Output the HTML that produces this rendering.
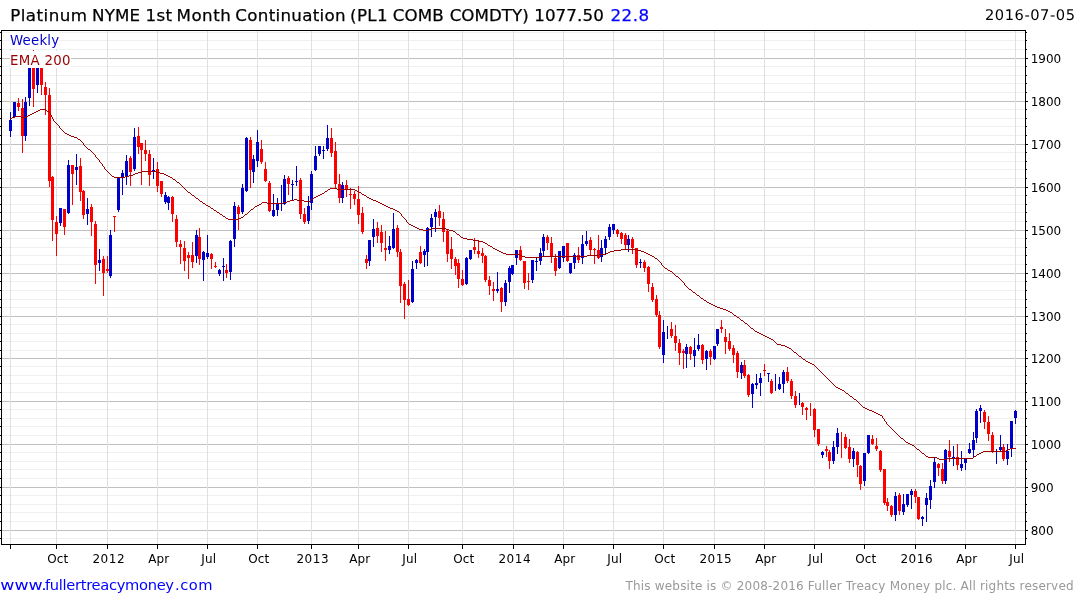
<!DOCTYPE html>
<html><head><meta charset="utf-8"><title>Platinum NYME 1st Month Continuation</title>
<style>html,body{margin:0;padding:0;background:#fff}svg{display:block;will-change:transform}text{font-family:"DejaVu Sans","Liberation Sans",sans-serif}</style></head><body>
<svg width="1075" height="600" viewBox="0 0 1075 600">
<rect width="1075" height="600" fill="#fff"/>
<g shape-rendering="crispEdges">
<rect x="2" y="538" width="1023" height="1" fill="#f0f0f0"/>
<rect x="2" y="521" width="1023" height="1" fill="#f0f0f0"/>
<rect x="2" y="512" width="1023" height="1" fill="#f0f0f0"/>
<rect x="2" y="504" width="1023" height="1" fill="#f0f0f0"/>
<rect x="2" y="495" width="1023" height="1" fill="#f0f0f0"/>
<rect x="2" y="478" width="1023" height="1" fill="#f0f0f0"/>
<rect x="2" y="469" width="1023" height="1" fill="#f0f0f0"/>
<rect x="2" y="461" width="1023" height="1" fill="#f0f0f0"/>
<rect x="2" y="452" width="1023" height="1" fill="#f0f0f0"/>
<rect x="2" y="435" width="1023" height="1" fill="#f0f0f0"/>
<rect x="2" y="426" width="1023" height="1" fill="#f0f0f0"/>
<rect x="2" y="418" width="1023" height="1" fill="#f0f0f0"/>
<rect x="2" y="409" width="1023" height="1" fill="#f0f0f0"/>
<rect x="2" y="392" width="1023" height="1" fill="#f0f0f0"/>
<rect x="2" y="383" width="1023" height="1" fill="#f0f0f0"/>
<rect x="2" y="375" width="1023" height="1" fill="#f0f0f0"/>
<rect x="2" y="366" width="1023" height="1" fill="#f0f0f0"/>
<rect x="2" y="350" width="1023" height="1" fill="#f0f0f0"/>
<rect x="2" y="341" width="1023" height="1" fill="#f0f0f0"/>
<rect x="2" y="333" width="1023" height="1" fill="#f0f0f0"/>
<rect x="2" y="324" width="1023" height="1" fill="#f0f0f0"/>
<rect x="2" y="307" width="1023" height="1" fill="#f0f0f0"/>
<rect x="2" y="299" width="1023" height="1" fill="#f0f0f0"/>
<rect x="2" y="290" width="1023" height="1" fill="#f0f0f0"/>
<rect x="2" y="281" width="1023" height="1" fill="#f0f0f0"/>
<rect x="2" y="264" width="1023" height="1" fill="#f0f0f0"/>
<rect x="2" y="255" width="1023" height="1" fill="#f0f0f0"/>
<rect x="2" y="247" width="1023" height="1" fill="#f0f0f0"/>
<rect x="2" y="238" width="1023" height="1" fill="#f0f0f0"/>
<rect x="2" y="221" width="1023" height="1" fill="#f0f0f0"/>
<rect x="2" y="212" width="1023" height="1" fill="#f0f0f0"/>
<rect x="2" y="204" width="1023" height="1" fill="#f0f0f0"/>
<rect x="2" y="195" width="1023" height="1" fill="#f0f0f0"/>
<rect x="2" y="178" width="1023" height="1" fill="#f0f0f0"/>
<rect x="2" y="169" width="1023" height="1" fill="#f0f0f0"/>
<rect x="2" y="161" width="1023" height="1" fill="#f0f0f0"/>
<rect x="2" y="152" width="1023" height="1" fill="#f0f0f0"/>
<rect x="2" y="135" width="1023" height="1" fill="#f0f0f0"/>
<rect x="2" y="126" width="1023" height="1" fill="#f0f0f0"/>
<rect x="2" y="118" width="1023" height="1" fill="#f0f0f0"/>
<rect x="2" y="109" width="1023" height="1" fill="#f0f0f0"/>
<rect x="2" y="92" width="1023" height="1" fill="#f0f0f0"/>
<rect x="2" y="83" width="1023" height="1" fill="#f0f0f0"/>
<rect x="2" y="75" width="1023" height="1" fill="#f0f0f0"/>
<rect x="2" y="66" width="1023" height="1" fill="#f0f0f0"/>
<rect x="2" y="49" width="1023" height="1" fill="#f0f0f0"/>
<rect x="2" y="40" width="1023" height="1" fill="#f0f0f0"/>
<rect x="2" y="32" width="1023" height="1" fill="#f0f0f0"/>
<rect x="2" y="530" width="1023" height="1" fill="#c0c0c0"/>
<rect x="2" y="487" width="1023" height="1" fill="#c0c0c0"/>
<rect x="2" y="444" width="1023" height="1" fill="#c0c0c0"/>
<rect x="2" y="401" width="1023" height="1" fill="#c0c0c0"/>
<rect x="2" y="358" width="1023" height="1" fill="#c0c0c0"/>
<rect x="2" y="316" width="1023" height="1" fill="#c0c0c0"/>
<rect x="2" y="273" width="1023" height="1" fill="#c0c0c0"/>
<rect x="2" y="230" width="1023" height="1" fill="#c0c0c0"/>
<rect x="2" y="187" width="1023" height="1" fill="#c0c0c0"/>
<rect x="2" y="144" width="1023" height="1" fill="#c0c0c0"/>
<rect x="2" y="101" width="1023" height="1" fill="#c0c0c0"/>
<rect x="2" y="58" width="1023" height="1" fill="#c0c0c0"/>
<rect x="10" y="31" width="1" height="513" fill="#e0e0e0"/>
<rect x="56" y="31" width="1" height="513" fill="#e0e0e0"/>
<rect x="107" y="31" width="1" height="513" fill="#e0e0e0"/>
<rect x="157" y="31" width="1" height="513" fill="#e0e0e0"/>
<rect x="207" y="31" width="1" height="513" fill="#e0e0e0"/>
<rect x="257" y="31" width="1" height="513" fill="#e0e0e0"/>
<rect x="311" y="31" width="1" height="513" fill="#e0e0e0"/>
<rect x="358" y="31" width="1" height="513" fill="#e0e0e0"/>
<rect x="408" y="31" width="1" height="513" fill="#e0e0e0"/>
<rect x="462" y="31" width="1" height="513" fill="#e0e0e0"/>
<rect x="513" y="31" width="1" height="513" fill="#e0e0e0"/>
<rect x="563" y="31" width="1" height="513" fill="#e0e0e0"/>
<rect x="613" y="31" width="1" height="513" fill="#e0e0e0"/>
<rect x="663" y="31" width="1" height="513" fill="#e0e0e0"/>
<rect x="714" y="31" width="1" height="513" fill="#e0e0e0"/>
<rect x="764" y="31" width="1" height="513" fill="#e0e0e0"/>
<rect x="814" y="31" width="1" height="513" fill="#e0e0e0"/>
<rect x="864" y="31" width="1" height="513" fill="#e0e0e0"/>
<rect x="915" y="31" width="1" height="513" fill="#e0e0e0"/>
<rect x="965" y="31" width="1" height="513" fill="#e0e0e0"/>
<rect x="1015" y="31" width="1" height="513" fill="#e0e0e0"/>
</g>
<g shape-rendering="crispEdges">
<rect x="10" y="112" width="1" height="25" fill="#0000cc"/>
<rect x="9" y="120" width="3" height="11" fill="#0000cc"/>
<rect x="14" y="102" width="1" height="16" fill="#0000cc"/>
<rect x="13" y="102" width="3" height="15" fill="#0000cc"/>
<rect x="18" y="98" width="1" height="13" fill="#ff0000"/>
<rect x="17" y="103" width="3" height="4" fill="#ff0000"/>
<rect x="22" y="99" width="1" height="54" fill="#ff0000"/>
<rect x="21" y="108" width="3" height="28" fill="#ff0000"/>
<rect x="25" y="97" width="1" height="44" fill="#0000cc"/>
<rect x="24" y="102" width="3" height="34" fill="#0000cc"/>
<rect x="29" y="52" width="1" height="54" fill="#0000cc"/>
<rect x="28" y="58" width="3" height="40" fill="#0000cc"/>
<rect x="33" y="50" width="1" height="57" fill="#ff0000"/>
<rect x="32" y="55" width="3" height="34" fill="#ff0000"/>
<rect x="37" y="52" width="1" height="41" fill="#0000cc"/>
<rect x="36" y="56" width="3" height="29" fill="#0000cc"/>
<rect x="41" y="52" width="1" height="43" fill="#ff0000"/>
<rect x="40" y="54" width="3" height="31" fill="#ff0000"/>
<rect x="45" y="82" width="1" height="33" fill="#ff0000"/>
<rect x="44" y="87" width="3" height="8" fill="#ff0000"/>
<rect x="49" y="88" width="1" height="99" fill="#ff0000"/>
<rect x="48" y="95" width="3" height="86" fill="#ff0000"/>
<rect x="52" y="176" width="1" height="65" fill="#ff0000"/>
<rect x="51" y="177" width="3" height="43" fill="#ff0000"/>
<rect x="56" y="216" width="1" height="40" fill="#ff0000"/>
<rect x="55" y="222" width="3" height="12" fill="#ff0000"/>
<rect x="60" y="208" width="1" height="18" fill="#0000cc"/>
<rect x="59" y="208" width="3" height="15" fill="#0000cc"/>
<rect x="64" y="209" width="1" height="26" fill="#ff0000"/>
<rect x="63" y="209" width="3" height="18" fill="#ff0000"/>
<rect x="68" y="160" width="1" height="54" fill="#0000cc"/>
<rect x="67" y="165" width="3" height="48" fill="#0000cc"/>
<rect x="72" y="165" width="1" height="40" fill="#ff0000"/>
<rect x="71" y="165" width="3" height="9" fill="#ff0000"/>
<rect x="76" y="154" width="1" height="31" fill="#0000cc"/>
<rect x="75" y="167" width="3" height="3" fill="#0000cc"/>
<rect x="80" y="158" width="1" height="43" fill="#ff0000"/>
<rect x="79" y="166" width="3" height="26" fill="#ff0000"/>
<rect x="83" y="190" width="1" height="29" fill="#ff0000"/>
<rect x="82" y="191" width="3" height="24" fill="#ff0000"/>
<rect x="87" y="198" width="1" height="27" fill="#0000cc"/>
<rect x="86" y="209" width="3" height="5" fill="#0000cc"/>
<rect x="91" y="204" width="1" height="32" fill="#ff0000"/>
<rect x="90" y="207" width="3" height="15" fill="#ff0000"/>
<rect x="95" y="221" width="1" height="63" fill="#ff0000"/>
<rect x="94" y="224" width="3" height="41" fill="#ff0000"/>
<rect x="99" y="249" width="1" height="22" fill="#0000cc"/>
<rect x="98" y="260" width="3" height="3" fill="#0000cc"/>
<rect x="103" y="256" width="1" height="40" fill="#ff0000"/>
<rect x="102" y="259" width="3" height="14" fill="#ff0000"/>
<rect x="107" y="256" width="1" height="17" fill="#ff0000"/>
<rect x="106" y="269" width="3" height="2" fill="#ff0000"/>
<rect x="110" y="230" width="1" height="48" fill="#0000cc"/>
<rect x="109" y="235" width="3" height="41" fill="#0000cc"/>
<rect x="114" y="216" width="1" height="16" fill="#ff0000"/>
<rect x="113" y="216" width="3" height="1" fill="#ff0000"/>
<rect x="118" y="178" width="1" height="34" fill="#0000cc"/>
<rect x="117" y="178" width="3" height="32" fill="#0000cc"/>
<rect x="122" y="170" width="1" height="25" fill="#0000cc"/>
<rect x="121" y="173" width="3" height="5" fill="#0000cc"/>
<rect x="126" y="155" width="1" height="30" fill="#0000cc"/>
<rect x="125" y="161" width="3" height="15" fill="#0000cc"/>
<rect x="130" y="156" width="1" height="30" fill="#ff0000"/>
<rect x="129" y="158" width="3" height="14" fill="#ff0000"/>
<rect x="134" y="128" width="1" height="43" fill="#0000cc"/>
<rect x="133" y="137" width="3" height="32" fill="#0000cc"/>
<rect x="138" y="127" width="1" height="27" fill="#ff0000"/>
<rect x="137" y="136" width="3" height="11" fill="#ff0000"/>
<rect x="141" y="143" width="1" height="42" fill="#ff0000"/>
<rect x="140" y="143" width="3" height="7" fill="#ff0000"/>
<rect x="145" y="140" width="1" height="21" fill="#ff0000"/>
<rect x="144" y="150" width="3" height="4" fill="#ff0000"/>
<rect x="149" y="150" width="1" height="36" fill="#ff0000"/>
<rect x="148" y="154" width="3" height="21" fill="#ff0000"/>
<rect x="153" y="158" width="1" height="21" fill="#0000cc"/>
<rect x="152" y="170" width="3" height="2" fill="#0000cc"/>
<rect x="157" y="162" width="1" height="30" fill="#ff0000"/>
<rect x="156" y="169" width="3" height="17" fill="#ff0000"/>
<rect x="161" y="181" width="1" height="16" fill="#ff0000"/>
<rect x="160" y="181" width="3" height="13" fill="#ff0000"/>
<rect x="165" y="192" width="1" height="12" fill="#0000cc"/>
<rect x="164" y="195" width="3" height="7" fill="#0000cc"/>
<rect x="168" y="196" width="1" height="14" fill="#0000cc"/>
<rect x="167" y="197" width="3" height="6" fill="#0000cc"/>
<rect x="172" y="196" width="1" height="26" fill="#ff0000"/>
<rect x="171" y="197" width="3" height="17" fill="#ff0000"/>
<rect x="176" y="215" width="1" height="32" fill="#ff0000"/>
<rect x="175" y="219" width="3" height="23" fill="#ff0000"/>
<rect x="180" y="240" width="1" height="24" fill="#ff0000"/>
<rect x="179" y="244" width="3" height="3" fill="#ff0000"/>
<rect x="184" y="241" width="1" height="30" fill="#ff0000"/>
<rect x="183" y="248" width="3" height="13" fill="#ff0000"/>
<rect x="188" y="252" width="1" height="27" fill="#ff0000"/>
<rect x="187" y="255" width="3" height="3" fill="#ff0000"/>
<rect x="192" y="242" width="1" height="26" fill="#ff0000"/>
<rect x="191" y="255" width="3" height="7" fill="#ff0000"/>
<rect x="196" y="230" width="1" height="33" fill="#0000cc"/>
<rect x="195" y="235" width="3" height="21" fill="#0000cc"/>
<rect x="199" y="228" width="1" height="37" fill="#ff0000"/>
<rect x="198" y="237" width="3" height="22" fill="#ff0000"/>
<rect x="203" y="251" width="1" height="30" fill="#0000cc"/>
<rect x="202" y="252" width="3" height="8" fill="#0000cc"/>
<rect x="207" y="235" width="1" height="24" fill="#0000cc"/>
<rect x="206" y="253" width="3" height="4" fill="#0000cc"/>
<rect x="211" y="253" width="1" height="16" fill="#ff0000"/>
<rect x="210" y="254" width="3" height="5" fill="#ff0000"/>
<rect x="215" y="262" width="1" height="6" fill="#ff0000"/>
<rect x="214" y="266" width="3" height="1" fill="#ff0000"/>
<rect x="219" y="269" width="1" height="7" fill="#0000cc"/>
<rect x="218" y="270" width="3" height="4" fill="#0000cc"/>
<rect x="223" y="258" width="1" height="23" fill="#0000cc"/>
<rect x="222" y="266" width="3" height="1" fill="#0000cc"/>
<rect x="226" y="264" width="1" height="14" fill="#ff0000"/>
<rect x="225" y="270" width="3" height="3" fill="#ff0000"/>
<rect x="230" y="240" width="1" height="40" fill="#0000cc"/>
<rect x="229" y="241" width="3" height="31" fill="#0000cc"/>
<rect x="234" y="202" width="1" height="45" fill="#0000cc"/>
<rect x="233" y="206" width="3" height="33" fill="#0000cc"/>
<rect x="238" y="205" width="1" height="25" fill="#ff0000"/>
<rect x="237" y="207" width="3" height="7" fill="#ff0000"/>
<rect x="242" y="184" width="1" height="30" fill="#0000cc"/>
<rect x="241" y="188" width="3" height="24" fill="#0000cc"/>
<rect x="246" y="137" width="1" height="55" fill="#0000cc"/>
<rect x="245" y="138" width="3" height="53" fill="#0000cc"/>
<rect x="250" y="137" width="1" height="51" fill="#ff0000"/>
<rect x="249" y="140" width="3" height="30" fill="#ff0000"/>
<rect x="253" y="155" width="1" height="28" fill="#0000cc"/>
<rect x="252" y="159" width="3" height="13" fill="#0000cc"/>
<rect x="257" y="130" width="1" height="37" fill="#0000cc"/>
<rect x="256" y="142" width="3" height="19" fill="#0000cc"/>
<rect x="261" y="140" width="1" height="24" fill="#ff0000"/>
<rect x="260" y="149" width="3" height="13" fill="#ff0000"/>
<rect x="265" y="162" width="1" height="20" fill="#ff0000"/>
<rect x="264" y="169" width="3" height="12" fill="#ff0000"/>
<rect x="269" y="181" width="1" height="31" fill="#ff0000"/>
<rect x="268" y="183" width="3" height="28" fill="#ff0000"/>
<rect x="273" y="194" width="1" height="23" fill="#0000cc"/>
<rect x="272" y="210" width="3" height="6" fill="#0000cc"/>
<rect x="277" y="198" width="1" height="18" fill="#0000cc"/>
<rect x="276" y="204" width="3" height="6" fill="#0000cc"/>
<rect x="281" y="185" width="1" height="26" fill="#0000cc"/>
<rect x="284" y="175" width="1" height="30" fill="#0000cc"/>
<rect x="283" y="179" width="3" height="25" fill="#0000cc"/>
<rect x="288" y="176" width="1" height="19" fill="#ff0000"/>
<rect x="287" y="178" width="3" height="6" fill="#ff0000"/>
<rect x="292" y="180" width="1" height="20" fill="#0000cc"/>
<rect x="291" y="184" width="3" height="1" fill="#0000cc"/>
<rect x="296" y="166" width="1" height="20" fill="#0000cc"/>
<rect x="295" y="181" width="3" height="1" fill="#0000cc"/>
<rect x="300" y="178" width="1" height="41" fill="#ff0000"/>
<rect x="299" y="180" width="3" height="34" fill="#ff0000"/>
<rect x="304" y="208" width="1" height="16" fill="#ff0000"/>
<rect x="303" y="214" width="3" height="8" fill="#ff0000"/>
<rect x="308" y="196" width="1" height="28" fill="#0000cc"/>
<rect x="307" y="206" width="3" height="15" fill="#0000cc"/>
<rect x="311" y="171" width="1" height="39" fill="#0000cc"/>
<rect x="310" y="174" width="3" height="29" fill="#0000cc"/>
<rect x="315" y="146" width="1" height="25" fill="#0000cc"/>
<rect x="314" y="156" width="3" height="14" fill="#0000cc"/>
<rect x="319" y="146" width="1" height="10" fill="#0000cc"/>
<rect x="318" y="146" width="3" height="8" fill="#0000cc"/>
<rect x="323" y="146" width="1" height="13" fill="#0000cc"/>
<rect x="322" y="150" width="3" height="1" fill="#0000cc"/>
<rect x="327" y="125" width="1" height="26" fill="#0000cc"/>
<rect x="326" y="138" width="3" height="11" fill="#0000cc"/>
<rect x="331" y="128" width="1" height="29" fill="#ff0000"/>
<rect x="330" y="138" width="3" height="15" fill="#ff0000"/>
<rect x="335" y="142" width="1" height="46" fill="#ff0000"/>
<rect x="334" y="151" width="3" height="33" fill="#ff0000"/>
<rect x="339" y="174" width="1" height="29" fill="#ff0000"/>
<rect x="338" y="184" width="3" height="14" fill="#ff0000"/>
<rect x="342" y="182" width="1" height="21" fill="#0000cc"/>
<rect x="341" y="185" width="3" height="13" fill="#0000cc"/>
<rect x="346" y="180" width="1" height="17" fill="#ff0000"/>
<rect x="345" y="185" width="3" height="4" fill="#ff0000"/>
<rect x="350" y="188" width="1" height="21" fill="#ff0000"/>
<rect x="349" y="194" width="3" height="1" fill="#ff0000"/>
<rect x="354" y="191" width="1" height="14" fill="#ff0000"/>
<rect x="353" y="194" width="3" height="5" fill="#ff0000"/>
<rect x="358" y="186" width="1" height="38" fill="#ff0000"/>
<rect x="357" y="199" width="3" height="16" fill="#ff0000"/>
<rect x="362" y="207" width="1" height="27" fill="#ff0000"/>
<rect x="361" y="213" width="3" height="19" fill="#ff0000"/>
<rect x="366" y="255" width="1" height="14" fill="#ff0000"/>
<rect x="365" y="259" width="3" height="4" fill="#ff0000"/>
<rect x="369" y="240" width="1" height="26" fill="#0000cc"/>
<rect x="368" y="240" width="3" height="21" fill="#0000cc"/>
<rect x="373" y="219" width="1" height="28" fill="#0000cc"/>
<rect x="372" y="229" width="3" height="8" fill="#0000cc"/>
<rect x="377" y="222" width="1" height="21" fill="#ff0000"/>
<rect x="376" y="228" width="3" height="8" fill="#ff0000"/>
<rect x="381" y="225" width="1" height="27" fill="#ff0000"/>
<rect x="380" y="232" width="3" height="11" fill="#ff0000"/>
<rect x="385" y="231" width="1" height="30" fill="#ff0000"/>
<rect x="384" y="248" width="3" height="2" fill="#ff0000"/>
<rect x="389" y="236" width="1" height="18" fill="#0000cc"/>
<rect x="388" y="246" width="3" height="4" fill="#0000cc"/>
<rect x="393" y="213" width="1" height="36" fill="#0000cc"/>
<rect x="392" y="229" width="3" height="19" fill="#0000cc"/>
<rect x="397" y="225" width="1" height="32" fill="#ff0000"/>
<rect x="396" y="228" width="3" height="24" fill="#ff0000"/>
<rect x="400" y="249" width="1" height="54" fill="#ff0000"/>
<rect x="399" y="252" width="3" height="34" fill="#ff0000"/>
<rect x="404" y="282" width="1" height="37" fill="#ff0000"/>
<rect x="403" y="284" width="3" height="16" fill="#ff0000"/>
<rect x="408" y="280" width="1" height="26" fill="#ff0000"/>
<rect x="407" y="299" width="3" height="6" fill="#ff0000"/>
<rect x="412" y="261" width="1" height="42" fill="#0000cc"/>
<rect x="411" y="269" width="3" height="33" fill="#0000cc"/>
<rect x="416" y="259" width="1" height="10" fill="#0000cc"/>
<rect x="415" y="260" width="3" height="3" fill="#0000cc"/>
<rect x="420" y="246" width="1" height="18" fill="#ff0000"/>
<rect x="419" y="252" width="3" height="11" fill="#ff0000"/>
<rect x="424" y="249" width="1" height="18" fill="#0000cc"/>
<rect x="423" y="251" width="3" height="4" fill="#0000cc"/>
<rect x="427" y="227" width="1" height="39" fill="#0000cc"/>
<rect x="426" y="228" width="3" height="24" fill="#0000cc"/>
<rect x="431" y="214" width="1" height="23" fill="#0000cc"/>
<rect x="430" y="218" width="3" height="9" fill="#0000cc"/>
<rect x="435" y="209" width="1" height="23" fill="#0000cc"/>
<rect x="434" y="212" width="3" height="5" fill="#0000cc"/>
<rect x="439" y="205" width="1" height="21" fill="#ff0000"/>
<rect x="438" y="211" width="3" height="7" fill="#ff0000"/>
<rect x="443" y="212" width="1" height="30" fill="#ff0000"/>
<rect x="442" y="219" width="3" height="13" fill="#ff0000"/>
<rect x="447" y="230" width="1" height="32" fill="#ff0000"/>
<rect x="446" y="231" width="3" height="23" fill="#ff0000"/>
<rect x="451" y="237" width="1" height="32" fill="#ff0000"/>
<rect x="450" y="249" width="3" height="10" fill="#ff0000"/>
<rect x="455" y="257" width="1" height="18" fill="#ff0000"/>
<rect x="454" y="259" width="3" height="7" fill="#ff0000"/>
<rect x="458" y="259" width="1" height="29" fill="#ff0000"/>
<rect x="457" y="263" width="3" height="16" fill="#ff0000"/>
<rect x="462" y="270" width="1" height="16" fill="#ff0000"/>
<rect x="461" y="279" width="3" height="6" fill="#ff0000"/>
<rect x="466" y="257" width="1" height="28" fill="#0000cc"/>
<rect x="465" y="258" width="3" height="26" fill="#0000cc"/>
<rect x="470" y="250" width="1" height="10" fill="#0000cc"/>
<rect x="469" y="250" width="3" height="9" fill="#0000cc"/>
<rect x="474" y="238" width="1" height="16" fill="#ff0000"/>
<rect x="473" y="247" width="3" height="3" fill="#ff0000"/>
<rect x="478" y="241" width="1" height="17" fill="#ff0000"/>
<rect x="477" y="251" width="3" height="3" fill="#ff0000"/>
<rect x="482" y="248" width="1" height="15" fill="#ff0000"/>
<rect x="481" y="253" width="3" height="3" fill="#ff0000"/>
<rect x="485" y="255" width="1" height="27" fill="#ff0000"/>
<rect x="484" y="256" width="3" height="24" fill="#ff0000"/>
<rect x="489" y="276" width="1" height="19" fill="#ff0000"/>
<rect x="488" y="280" width="3" height="6" fill="#ff0000"/>
<rect x="493" y="282" width="1" height="19" fill="#ff0000"/>
<rect x="492" y="289" width="3" height="2" fill="#ff0000"/>
<rect x="497" y="272" width="1" height="21" fill="#0000cc"/>
<rect x="496" y="289" width="3" height="2" fill="#0000cc"/>
<rect x="501" y="287" width="1" height="25" fill="#ff0000"/>
<rect x="500" y="288" width="3" height="14" fill="#ff0000"/>
<rect x="505" y="280" width="1" height="26" fill="#0000cc"/>
<rect x="504" y="283" width="3" height="19" fill="#0000cc"/>
<rect x="509" y="266" width="1" height="27" fill="#0000cc"/>
<rect x="508" y="268" width="3" height="14" fill="#0000cc"/>
<rect x="512" y="265" width="1" height="10" fill="#0000cc"/>
<rect x="511" y="265" width="3" height="9" fill="#0000cc"/>
<rect x="516" y="250" width="1" height="15" fill="#0000cc"/>
<rect x="515" y="250" width="3" height="8" fill="#0000cc"/>
<rect x="520" y="246" width="1" height="15" fill="#ff0000"/>
<rect x="519" y="250" width="3" height="10" fill="#ff0000"/>
<rect x="524" y="261" width="1" height="28" fill="#ff0000"/>
<rect x="523" y="261" width="3" height="22" fill="#ff0000"/>
<rect x="528" y="273" width="1" height="17" fill="#ff0000"/>
<rect x="527" y="281" width="3" height="1" fill="#ff0000"/>
<rect x="532" y="260" width="1" height="23" fill="#0000cc"/>
<rect x="531" y="260" width="3" height="20" fill="#0000cc"/>
<rect x="536" y="258" width="1" height="13" fill="#0000cc"/>
<rect x="535" y="261" width="3" height="1" fill="#0000cc"/>
<rect x="540" y="248" width="1" height="17" fill="#0000cc"/>
<rect x="539" y="253" width="3" height="8" fill="#0000cc"/>
<rect x="543" y="234" width="1" height="22" fill="#0000cc"/>
<rect x="542" y="237" width="3" height="14" fill="#0000cc"/>
<rect x="547" y="235" width="1" height="15" fill="#ff0000"/>
<rect x="546" y="237" width="3" height="6" fill="#ff0000"/>
<rect x="551" y="237" width="1" height="26" fill="#ff0000"/>
<rect x="550" y="243" width="3" height="13" fill="#ff0000"/>
<rect x="555" y="254" width="1" height="22" fill="#ff0000"/>
<rect x="554" y="258" width="3" height="13" fill="#ff0000"/>
<rect x="559" y="251" width="1" height="18" fill="#0000cc"/>
<rect x="558" y="251" width="3" height="17" fill="#0000cc"/>
<rect x="563" y="246" width="1" height="16" fill="#0000cc"/>
<rect x="562" y="246" width="3" height="12" fill="#0000cc"/>
<rect x="567" y="243" width="1" height="19" fill="#ff0000"/>
<rect x="566" y="243" width="3" height="18" fill="#ff0000"/>
<rect x="570" y="263" width="1" height="11" fill="#0000cc"/>
<rect x="569" y="263" width="3" height="10" fill="#0000cc"/>
<rect x="574" y="253" width="1" height="16" fill="#0000cc"/>
<rect x="573" y="255" width="3" height="8" fill="#0000cc"/>
<rect x="578" y="247" width="1" height="16" fill="#ff0000"/>
<rect x="577" y="255" width="3" height="5" fill="#ff0000"/>
<rect x="582" y="235" width="1" height="29" fill="#0000cc"/>
<rect x="581" y="244" width="3" height="14" fill="#0000cc"/>
<rect x="586" y="231" width="1" height="15" fill="#0000cc"/>
<rect x="585" y="241" width="3" height="3" fill="#0000cc"/>
<rect x="590" y="237" width="1" height="18" fill="#ff0000"/>
<rect x="589" y="240" width="3" height="10" fill="#ff0000"/>
<rect x="594" y="248" width="1" height="16" fill="#ff0000"/>
<rect x="593" y="249" width="3" height="1" fill="#ff0000"/>
<rect x="598" y="235" width="1" height="24" fill="#ff0000"/>
<rect x="597" y="250" width="3" height="8" fill="#ff0000"/>
<rect x="601" y="240" width="1" height="22" fill="#0000cc"/>
<rect x="600" y="248" width="3" height="9" fill="#0000cc"/>
<rect x="605" y="236" width="1" height="18" fill="#0000cc"/>
<rect x="604" y="239" width="3" height="9" fill="#0000cc"/>
<rect x="609" y="224" width="1" height="16" fill="#0000cc"/>
<rect x="608" y="227" width="3" height="10" fill="#0000cc"/>
<rect x="613" y="224" width="1" height="10" fill="#0000cc"/>
<rect x="612" y="224" width="3" height="6" fill="#0000cc"/>
<rect x="617" y="229" width="1" height="8" fill="#ff0000"/>
<rect x="616" y="230" width="3" height="4" fill="#ff0000"/>
<rect x="621" y="232" width="1" height="12" fill="#ff0000"/>
<rect x="620" y="233" width="3" height="6" fill="#ff0000"/>
<rect x="625" y="233" width="1" height="16" fill="#ff0000"/>
<rect x="624" y="235" width="3" height="10" fill="#ff0000"/>
<rect x="628" y="235" width="1" height="17" fill="#0000cc"/>
<rect x="627" y="239" width="3" height="6" fill="#0000cc"/>
<rect x="632" y="237" width="1" height="17" fill="#ff0000"/>
<rect x="631" y="239" width="3" height="9" fill="#ff0000"/>
<rect x="636" y="248" width="1" height="20" fill="#ff0000"/>
<rect x="635" y="248" width="3" height="17" fill="#ff0000"/>
<rect x="640" y="259" width="1" height="9" fill="#0000cc"/>
<rect x="639" y="262" width="3" height="1" fill="#0000cc"/>
<rect x="644" y="260" width="1" height="12" fill="#ff0000"/>
<rect x="643" y="262" width="3" height="6" fill="#ff0000"/>
<rect x="648" y="266" width="1" height="26" fill="#ff0000"/>
<rect x="647" y="267" width="3" height="17" fill="#ff0000"/>
<rect x="652" y="283" width="1" height="19" fill="#ff0000"/>
<rect x="651" y="287" width="3" height="13" fill="#ff0000"/>
<rect x="656" y="295" width="1" height="22" fill="#ff0000"/>
<rect x="655" y="299" width="3" height="16" fill="#ff0000"/>
<rect x="659" y="311" width="1" height="38" fill="#ff0000"/>
<rect x="658" y="315" width="3" height="32" fill="#ff0000"/>
<rect x="663" y="320" width="1" height="43" fill="#0000cc"/>
<rect x="662" y="332" width="3" height="23" fill="#0000cc"/>
<rect x="667" y="326" width="1" height="13" fill="#0000cc"/>
<rect x="671" y="322" width="1" height="16" fill="#ff0000"/>
<rect x="670" y="329" width="3" height="7" fill="#ff0000"/>
<rect x="675" y="325" width="1" height="26" fill="#ff0000"/>
<rect x="674" y="336" width="3" height="7" fill="#ff0000"/>
<rect x="679" y="339" width="1" height="26" fill="#ff0000"/>
<rect x="678" y="343" width="3" height="10" fill="#ff0000"/>
<rect x="683" y="349" width="1" height="20" fill="#ff0000"/>
<rect x="682" y="351" width="3" height="2" fill="#ff0000"/>
<rect x="686" y="344" width="1" height="24" fill="#0000cc"/>
<rect x="685" y="347" width="3" height="7" fill="#0000cc"/>
<rect x="690" y="346" width="1" height="14" fill="#ff0000"/>
<rect x="689" y="347" width="3" height="7" fill="#ff0000"/>
<rect x="694" y="338" width="1" height="29" fill="#0000cc"/>
<rect x="693" y="350" width="3" height="6" fill="#0000cc"/>
<rect x="698" y="334" width="1" height="17" fill="#0000cc"/>
<rect x="697" y="345" width="3" height="4" fill="#0000cc"/>
<rect x="702" y="344" width="1" height="20" fill="#ff0000"/>
<rect x="701" y="345" width="3" height="15" fill="#ff0000"/>
<rect x="706" y="350" width="1" height="20" fill="#0000cc"/>
<rect x="705" y="351" width="3" height="8" fill="#0000cc"/>
<rect x="710" y="349" width="1" height="16" fill="#ff0000"/>
<rect x="709" y="351" width="3" height="6" fill="#ff0000"/>
<rect x="714" y="346" width="1" height="14" fill="#0000cc"/>
<rect x="713" y="346" width="3" height="13" fill="#0000cc"/>
<rect x="717" y="329" width="1" height="17" fill="#0000cc"/>
<rect x="716" y="329" width="3" height="15" fill="#0000cc"/>
<rect x="721" y="320" width="1" height="13" fill="#ff0000"/>
<rect x="720" y="327" width="3" height="2" fill="#ff0000"/>
<rect x="725" y="329" width="1" height="25" fill="#ff0000"/>
<rect x="724" y="337" width="3" height="5" fill="#ff0000"/>
<rect x="729" y="333" width="1" height="18" fill="#ff0000"/>
<rect x="728" y="341" width="3" height="8" fill="#ff0000"/>
<rect x="733" y="345" width="1" height="18" fill="#ff0000"/>
<rect x="732" y="348" width="3" height="7" fill="#ff0000"/>
<rect x="737" y="351" width="1" height="27" fill="#ff0000"/>
<rect x="736" y="353" width="3" height="19" fill="#ff0000"/>
<rect x="741" y="362" width="1" height="17" fill="#0000cc"/>
<rect x="740" y="365" width="3" height="8" fill="#0000cc"/>
<rect x="744" y="360" width="1" height="18" fill="#ff0000"/>
<rect x="743" y="365" width="3" height="11" fill="#ff0000"/>
<rect x="748" y="374" width="1" height="23" fill="#ff0000"/>
<rect x="747" y="375" width="3" height="20" fill="#ff0000"/>
<rect x="752" y="383" width="1" height="25" fill="#0000cc"/>
<rect x="751" y="384" width="3" height="10" fill="#0000cc"/>
<rect x="756" y="374" width="1" height="15" fill="#0000cc"/>
<rect x="755" y="383" width="3" height="2" fill="#0000cc"/>
<rect x="760" y="373" width="1" height="23" fill="#0000cc"/>
<rect x="759" y="378" width="3" height="5" fill="#0000cc"/>
<rect x="764" y="364" width="1" height="12" fill="#ff0000"/>
<rect x="763" y="370" width="3" height="1" fill="#ff0000"/>
<rect x="768" y="373" width="1" height="9" fill="#0000cc"/>
<rect x="767" y="373" width="3" height="1" fill="#0000cc"/>
<rect x="771" y="379" width="1" height="15" fill="#ff0000"/>
<rect x="770" y="381" width="3" height="12" fill="#ff0000"/>
<rect x="775" y="374" width="1" height="17" fill="#0000cc"/>
<rect x="779" y="377" width="1" height="13" fill="#0000cc"/>
<rect x="778" y="384" width="3" height="5" fill="#0000cc"/>
<rect x="783" y="370" width="1" height="23" fill="#0000cc"/>
<rect x="782" y="372" width="3" height="12" fill="#0000cc"/>
<rect x="787" y="367" width="1" height="16" fill="#ff0000"/>
<rect x="786" y="372" width="3" height="9" fill="#ff0000"/>
<rect x="791" y="379" width="1" height="20" fill="#ff0000"/>
<rect x="790" y="381" width="3" height="15" fill="#ff0000"/>
<rect x="795" y="391" width="1" height="17" fill="#ff0000"/>
<rect x="794" y="396" width="3" height="9" fill="#ff0000"/>
<rect x="799" y="393" width="1" height="12" fill="#0000cc"/>
<rect x="802" y="402" width="1" height="13" fill="#ff0000"/>
<rect x="801" y="403" width="3" height="4" fill="#ff0000"/>
<rect x="806" y="407" width="1" height="13" fill="#ff0000"/>
<rect x="805" y="408" width="3" height="2" fill="#ff0000"/>
<rect x="810" y="403" width="1" height="13" fill="#ff0000"/>
<rect x="814" y="408" width="1" height="29" fill="#ff0000"/>
<rect x="813" y="409" width="3" height="21" fill="#ff0000"/>
<rect x="818" y="429" width="1" height="17" fill="#ff0000"/>
<rect x="817" y="429" width="3" height="15" fill="#ff0000"/>
<rect x="822" y="451" width="1" height="7" fill="#0000cc"/>
<rect x="821" y="452" width="3" height="3" fill="#0000cc"/>
<rect x="826" y="446" width="1" height="11" fill="#ff0000"/>
<rect x="825" y="449" width="3" height="2" fill="#ff0000"/>
<rect x="829" y="450" width="1" height="19" fill="#ff0000"/>
<rect x="828" y="452" width="3" height="9" fill="#ff0000"/>
<rect x="833" y="441" width="1" height="23" fill="#0000cc"/>
<rect x="832" y="447" width="3" height="14" fill="#0000cc"/>
<rect x="837" y="428" width="1" height="26" fill="#0000cc"/>
<rect x="836" y="433" width="3" height="14" fill="#0000cc"/>
<rect x="841" y="432" width="1" height="26" fill="#ff0000"/>
<rect x="845" y="434" width="1" height="15" fill="#ff0000"/>
<rect x="844" y="437" width="3" height="11" fill="#ff0000"/>
<rect x="849" y="439" width="1" height="24" fill="#ff0000"/>
<rect x="848" y="447" width="3" height="12" fill="#ff0000"/>
<rect x="853" y="448" width="1" height="19" fill="#0000cc"/>
<rect x="852" y="451" width="3" height="8" fill="#0000cc"/>
<rect x="857" y="451" width="1" height="26" fill="#ff0000"/>
<rect x="856" y="452" width="3" height="13" fill="#ff0000"/>
<rect x="860" y="465" width="1" height="25" fill="#ff0000"/>
<rect x="859" y="466" width="3" height="18" fill="#ff0000"/>
<rect x="864" y="453" width="1" height="33" fill="#0000cc"/>
<rect x="863" y="453" width="3" height="28" fill="#0000cc"/>
<rect x="868" y="435" width="1" height="19" fill="#0000cc"/>
<rect x="867" y="435" width="3" height="18" fill="#0000cc"/>
<rect x="872" y="435" width="1" height="10" fill="#ff0000"/>
<rect x="871" y="439" width="3" height="5" fill="#ff0000"/>
<rect x="876" y="438" width="1" height="13" fill="#ff0000"/>
<rect x="875" y="446" width="3" height="3" fill="#ff0000"/>
<rect x="880" y="450" width="1" height="22" fill="#ff0000"/>
<rect x="879" y="451" width="3" height="19" fill="#ff0000"/>
<rect x="884" y="469" width="1" height="36" fill="#ff0000"/>
<rect x="883" y="469" width="3" height="34" fill="#ff0000"/>
<rect x="887" y="498" width="1" height="13" fill="#ff0000"/>
<rect x="886" y="502" width="3" height="4" fill="#ff0000"/>
<rect x="891" y="505" width="1" height="12" fill="#ff0000"/>
<rect x="890" y="506" width="3" height="9" fill="#ff0000"/>
<rect x="895" y="492" width="1" height="29" fill="#0000cc"/>
<rect x="894" y="496" width="3" height="19" fill="#0000cc"/>
<rect x="899" y="493" width="1" height="22" fill="#ff0000"/>
<rect x="898" y="495" width="3" height="16" fill="#ff0000"/>
<rect x="903" y="494" width="1" height="21" fill="#0000cc"/>
<rect x="902" y="504" width="3" height="8" fill="#0000cc"/>
<rect x="907" y="494" width="1" height="13" fill="#0000cc"/>
<rect x="906" y="494" width="3" height="11" fill="#0000cc"/>
<rect x="911" y="489" width="1" height="20" fill="#0000cc"/>
<rect x="910" y="491" width="3" height="4" fill="#0000cc"/>
<rect x="915" y="489" width="1" height="14" fill="#ff0000"/>
<rect x="914" y="491" width="3" height="6" fill="#ff0000"/>
<rect x="918" y="497" width="1" height="23" fill="#ff0000"/>
<rect x="917" y="497" width="3" height="22" fill="#ff0000"/>
<rect x="922" y="516" width="1" height="10" fill="#0000cc"/>
<rect x="921" y="517" width="3" height="2" fill="#0000cc"/>
<rect x="926" y="493" width="1" height="29" fill="#0000cc"/>
<rect x="925" y="498" width="3" height="7" fill="#0000cc"/>
<rect x="930" y="480" width="1" height="29" fill="#0000cc"/>
<rect x="929" y="486" width="3" height="14" fill="#0000cc"/>
<rect x="934" y="458" width="1" height="30" fill="#0000cc"/>
<rect x="933" y="462" width="3" height="20" fill="#0000cc"/>
<rect x="938" y="463" width="1" height="13" fill="#ff0000"/>
<rect x="937" y="464" width="3" height="4" fill="#ff0000"/>
<rect x="942" y="463" width="1" height="21" fill="#ff0000"/>
<rect x="941" y="469" width="3" height="12" fill="#ff0000"/>
<rect x="945" y="449" width="1" height="35" fill="#0000cc"/>
<rect x="944" y="450" width="3" height="31" fill="#0000cc"/>
<rect x="949" y="440" width="1" height="22" fill="#ff0000"/>
<rect x="948" y="451" width="3" height="6" fill="#ff0000"/>
<rect x="953" y="446" width="1" height="20" fill="#0000cc"/>
<rect x="952" y="457" width="3" height="2" fill="#0000cc"/>
<rect x="957" y="444" width="1" height="26" fill="#ff0000"/>
<rect x="956" y="457" width="3" height="8" fill="#ff0000"/>
<rect x="961" y="451" width="1" height="20" fill="#0000cc"/>
<rect x="960" y="464" width="3" height="4" fill="#0000cc"/>
<rect x="965" y="458" width="1" height="12" fill="#0000cc"/>
<rect x="964" y="458" width="3" height="5" fill="#0000cc"/>
<rect x="969" y="443" width="1" height="11" fill="#0000cc"/>
<rect x="968" y="449" width="3" height="4" fill="#0000cc"/>
<rect x="973" y="432" width="1" height="25" fill="#0000cc"/>
<rect x="972" y="440" width="3" height="10" fill="#0000cc"/>
<rect x="976" y="409" width="1" height="34" fill="#0000cc"/>
<rect x="975" y="411" width="3" height="27" fill="#0000cc"/>
<rect x="980" y="405" width="1" height="18" fill="#0000cc"/>
<rect x="979" y="408" width="3" height="3" fill="#0000cc"/>
<rect x="984" y="410" width="1" height="19" fill="#ff0000"/>
<rect x="983" y="412" width="3" height="10" fill="#ff0000"/>
<rect x="988" y="416" width="1" height="25" fill="#ff0000"/>
<rect x="987" y="422" width="3" height="12" fill="#ff0000"/>
<rect x="992" y="432" width="1" height="21" fill="#ff0000"/>
<rect x="991" y="435" width="3" height="17" fill="#ff0000"/>
<rect x="996" y="449" width="1" height="15" fill="#0000cc"/>
<rect x="1000" y="435" width="1" height="16" fill="#0000cc"/>
<rect x="999" y="447" width="3" height="3" fill="#0000cc"/>
<rect x="1003" y="444" width="1" height="17" fill="#ff0000"/>
<rect x="1002" y="447" width="3" height="12" fill="#ff0000"/>
<rect x="1007" y="444" width="1" height="21" fill="#0000cc"/>
<rect x="1006" y="451" width="3" height="8" fill="#0000cc"/>
<rect x="1011" y="421" width="1" height="36" fill="#0000cc"/>
<rect x="1010" y="421" width="3" height="28" fill="#0000cc"/>
<rect x="1015" y="410" width="1" height="14" fill="#0000cc"/>
<rect x="1014" y="411" width="3" height="7" fill="#0000cc"/>
</g>
<path d="M40 109.5h6M38 110.5h2M46 110.5h1M36 111.5h2M47 111.5h2M34 112.5h2M49 112.5h1M32 113.5h2M50 113.5h1M30 114.5h2M50 114.5h1M28 115.5h2M51 115.5h1M15 116.5h6M26 116.5h2M51 116.5h1M12 117.5h3M21 117.5h5M52 117.5h1M10 118.5h2M52 118.5h1M53 119.5h1M53 120.5h1M54 121.5h1M55 122.5h1M56 123.5h1M57 124.5h1M58 125.5h1M59 126.5h1M59 127.5h1M60 128.5h1M61 129.5h1M62 130.5h1M63 131.5h1M64 132.5h1M65 133.5h2M67 134.5h2M69 135.5h2M71 136.5h3M74 137.5h3M77 138.5h1M78 139.5h2M80 140.5h1M81 141.5h1M82 142.5h1M83 143.5h1M83 144.5h1M84 145.5h1M85 146.5h1M86 147.5h1M87 148.5h1M88 149.5h2M90 150.5h1M91 151.5h1M92 152.5h1M93 153.5h1M94 154.5h1M95 155.5h1M95 156.5h1M96 157.5h1M97 158.5h1M98 159.5h1M99 160.5h1M99 161.5h1M100 162.5h1M101 163.5h1M102 164.5h1M102 165.5h1M103 166.5h1M104 167.5h1M104 168.5h1M105 169.5h1M106 170.5h1M107 171.5h1M142 171.5h14M108 172.5h1M138 172.5h4M156 172.5h4M109 173.5h1M135 173.5h3M160 173.5h4M110 174.5h1M133 174.5h2M164 174.5h2M111 175.5h1M129 175.5h4M166 175.5h2M112 176.5h2M125 176.5h4M168 176.5h2M114 177.5h11M170 177.5h2M172 178.5h1M173 179.5h2M175 180.5h1M176 181.5h1M177 182.5h2M179 183.5h1M180 184.5h1M181 185.5h1M182 186.5h1M183 187.5h1M184 188.5h1M330 188.5h7M185 189.5h1M328 189.5h2M337 189.5h18M186 190.5h1M327 190.5h1M355 190.5h2M187 191.5h1M325 191.5h2M357 191.5h2M188 192.5h2M324 192.5h1M359 192.5h2M190 193.5h1M322 193.5h2M361 193.5h1M191 194.5h1M320 194.5h2M362 194.5h2M192 195.5h2M318 195.5h2M364 195.5h2M194 196.5h1M316 196.5h2M366 196.5h1M195 197.5h1M314 197.5h2M367 197.5h2M196 198.5h2M313 198.5h1M369 198.5h2M198 199.5h1M294 199.5h3M311 199.5h2M371 199.5h2M199 200.5h1M290 200.5h4M297 200.5h7M310 200.5h1M373 200.5h3M200 201.5h2M287 201.5h3M304 201.5h6M376 201.5h2M202 202.5h1M262 202.5h5M283 202.5h4M378 202.5h2M203 203.5h2M261 203.5h1M267 203.5h16M380 203.5h2M205 204.5h1M259 204.5h2M382 204.5h2M206 205.5h2M257 205.5h2M384 205.5h2M208 206.5h2M255 206.5h2M386 206.5h2M210 207.5h1M254 207.5h1M388 207.5h2M211 208.5h2M253 208.5h1M390 208.5h3M213 209.5h1M251 209.5h2M393 209.5h2M214 210.5h2M250 210.5h1M395 210.5h2M216 211.5h1M249 211.5h1M397 211.5h2M217 212.5h2M248 212.5h1M399 212.5h1M219 213.5h1M247 213.5h1M400 213.5h1M220 214.5h2M245 214.5h2M401 214.5h1M222 215.5h1M244 215.5h1M401 215.5h1M223 216.5h2M243 216.5h1M402 216.5h1M225 217.5h1M241 217.5h2M403 217.5h1M226 218.5h2M238 218.5h3M404 218.5h1M228 219.5h10M405 219.5h1M406 220.5h1M406 221.5h1M407 222.5h1M408 223.5h1M409 224.5h2M411 225.5h2M413 226.5h2M415 227.5h2M417 228.5h2M432 228.5h14M419 229.5h4M428 229.5h4M446 229.5h3M423 230.5h5M449 230.5h4M453 231.5h2M455 232.5h1M456 233.5h1M457 234.5h2M459 235.5h1M460 236.5h1M461 237.5h2M463 238.5h4M467 239.5h6M473 240.5h6M479 241.5h4M483 242.5h2M485 243.5h2M487 244.5h1M488 245.5h2M490 246.5h2M492 247.5h1M493 248.5h2M495 249.5h2M621 249.5h16M497 250.5h2M614 250.5h7M637 250.5h4M499 251.5h2M610 251.5h4M641 251.5h3M501 252.5h2M608 252.5h2M644 252.5h2M503 253.5h3M606 253.5h2M646 253.5h2M506 254.5h14M599 254.5h7M648 254.5h2M520 255.5h2M587 255.5h12M650 255.5h2M522 256.5h3M541 256.5h46M652 256.5h2M525 257.5h16M654 257.5h1M655 258.5h2M657 259.5h1M658 260.5h1M659 261.5h1M660 262.5h1M661 263.5h1M661 264.5h1M662 265.5h1M663 266.5h1M664 267.5h1M665 268.5h2M667 269.5h1M668 270.5h2M670 271.5h2M672 272.5h1M673 273.5h1M674 274.5h1M675 275.5h1M676 276.5h2M678 277.5h1M679 278.5h1M680 279.5h1M681 280.5h1M682 281.5h1M683 282.5h1M684 283.5h1M684 284.5h1M685 285.5h1M686 286.5h1M687 287.5h1M688 288.5h1M689 289.5h2M691 290.5h1M692 291.5h1M693 292.5h2M695 293.5h1M696 294.5h1M697 295.5h2M699 296.5h1M700 297.5h1M701 298.5h2M703 299.5h1M704 300.5h2M706 301.5h1M707 302.5h2M709 303.5h2M711 304.5h2M713 305.5h2M715 306.5h2M717 307.5h3M720 308.5h3M723 309.5h3M726 310.5h2M728 311.5h2M730 312.5h2M732 313.5h1M733 314.5h1M734 315.5h2M736 316.5h1M737 317.5h2M739 318.5h1M740 319.5h1M741 320.5h2M743 321.5h1M744 322.5h1M745 323.5h2M747 324.5h1M748 325.5h1M749 326.5h1M750 327.5h1M751 328.5h2M753 329.5h1M754 330.5h1M755 331.5h2M757 332.5h2M759 333.5h2M761 334.5h2M763 335.5h2M765 336.5h2M767 337.5h2M769 338.5h2M771 339.5h2M773 340.5h1M774 341.5h1M775 342.5h1M776 343.5h1M777 344.5h4M781 345.5h4M785 346.5h2M787 347.5h2M789 348.5h2M791 349.5h1M792 350.5h1M793 351.5h1M794 352.5h2M796 353.5h1M797 354.5h1M798 355.5h1M799 356.5h2M801 357.5h1M802 358.5h1M803 359.5h2M805 360.5h1M806 361.5h2M808 362.5h2M810 363.5h2M812 364.5h2M814 365.5h1M815 366.5h1M816 367.5h1M817 368.5h1M818 369.5h1M819 370.5h1M820 371.5h1M821 372.5h1M822 373.5h1M823 374.5h1M824 375.5h1M825 376.5h1M826 377.5h1M827 378.5h1M828 379.5h1M829 380.5h1M830 381.5h1M831 382.5h1M832 383.5h1M833 384.5h1M834 385.5h1M835 386.5h1M836 387.5h2M838 388.5h2M840 389.5h2M842 390.5h2M844 391.5h1M845 392.5h1M846 393.5h2M848 394.5h1M849 395.5h1M850 396.5h2M852 397.5h1M853 398.5h1M854 399.5h2M856 400.5h1M857 401.5h1M858 402.5h1M859 403.5h1M860 404.5h1M861 405.5h1M862 406.5h1M863 407.5h2M865 408.5h2M867 409.5h2M869 410.5h3M872 411.5h2M874 412.5h2M876 413.5h2M878 414.5h2M880 415.5h2M882 416.5h1M882 417.5h1M883 418.5h1M884 419.5h1M884 420.5h1M885 421.5h1M886 422.5h1M886 423.5h1M887 424.5h1M888 425.5h1M889 426.5h1M890 427.5h1M891 428.5h1M892 429.5h1M893 430.5h1M894 431.5h1M895 432.5h1M896 433.5h1M897 434.5h1M898 435.5h1M899 436.5h1M900 437.5h1M901 438.5h2M903 439.5h1M904 440.5h1M905 441.5h1M906 442.5h2M908 443.5h2M910 444.5h2M912 445.5h2M914 446.5h1M915 447.5h1M916 448.5h1M1010 448.5h6M917 449.5h2M1008 449.5h2M919 450.5h1M1006 450.5h2M920 451.5h1M983 451.5h23M921 452.5h1M981 452.5h2M922 453.5h2M979 453.5h2M924 454.5h1M977 454.5h2M925 455.5h1M976 455.5h1M926 456.5h2M974 456.5h2M928 457.5h9M973 457.5h1M937 458.5h2M947 458.5h26M939 459.5h8" fill="none" stroke="#990000" stroke-width="1" shape-rendering="crispEdges"/>
<g shape-rendering="crispEdges"><rect x="10" y="31" width="49" height="18" fill="#fff"/><rect x="10" y="51" width="61" height="17" fill="#fff"/></g>
<text x="10" y="45" font-size="13.33" letter-spacing="0.2" fill="#0000cc">Weekly</text>
<text x="10" y="65" font-size="13.33" letter-spacing="0.3" fill="#990000">EMA 200</text>
<g shape-rendering="crispEdges" fill="#000">
<rect x="1" y="30" width="1025" height="1"/>
<rect x="1" y="544" width="1025" height="1"/>
<rect x="1" y="30" width="1" height="515"/>
<rect x="1025" y="30" width="1" height="515"/>
<rect x="1026" y="538" width="1" height="1"/>
<rect x="0" y="538" width="1" height="1"/>
<rect x="1026" y="530" width="2" height="1"/>
<rect x="0" y="530" width="1" height="1"/>
<rect x="1026" y="521" width="1" height="1"/>
<rect x="0" y="521" width="1" height="1"/>
<rect x="1026" y="512" width="1" height="1"/>
<rect x="0" y="512" width="1" height="1"/>
<rect x="1026" y="504" width="1" height="1"/>
<rect x="0" y="504" width="1" height="1"/>
<rect x="1026" y="495" width="1" height="1"/>
<rect x="0" y="495" width="1" height="1"/>
<rect x="1026" y="487" width="2" height="1"/>
<rect x="0" y="487" width="1" height="1"/>
<rect x="1026" y="478" width="1" height="1"/>
<rect x="0" y="478" width="1" height="1"/>
<rect x="1026" y="469" width="1" height="1"/>
<rect x="0" y="469" width="1" height="1"/>
<rect x="1026" y="461" width="1" height="1"/>
<rect x="0" y="461" width="1" height="1"/>
<rect x="1026" y="452" width="1" height="1"/>
<rect x="0" y="452" width="1" height="1"/>
<rect x="1026" y="444" width="2" height="1"/>
<rect x="0" y="444" width="1" height="1"/>
<rect x="1026" y="435" width="1" height="1"/>
<rect x="0" y="435" width="1" height="1"/>
<rect x="1026" y="426" width="1" height="1"/>
<rect x="0" y="426" width="1" height="1"/>
<rect x="1026" y="418" width="1" height="1"/>
<rect x="0" y="418" width="1" height="1"/>
<rect x="1026" y="409" width="1" height="1"/>
<rect x="0" y="409" width="1" height="1"/>
<rect x="1026" y="401" width="2" height="1"/>
<rect x="0" y="401" width="1" height="1"/>
<rect x="1026" y="392" width="1" height="1"/>
<rect x="0" y="392" width="1" height="1"/>
<rect x="1026" y="383" width="1" height="1"/>
<rect x="0" y="383" width="1" height="1"/>
<rect x="1026" y="375" width="1" height="1"/>
<rect x="0" y="375" width="1" height="1"/>
<rect x="1026" y="366" width="1" height="1"/>
<rect x="0" y="366" width="1" height="1"/>
<rect x="1026" y="358" width="2" height="1"/>
<rect x="0" y="358" width="1" height="1"/>
<rect x="1026" y="350" width="1" height="1"/>
<rect x="0" y="350" width="1" height="1"/>
<rect x="1026" y="341" width="1" height="1"/>
<rect x="0" y="341" width="1" height="1"/>
<rect x="1026" y="333" width="1" height="1"/>
<rect x="0" y="333" width="1" height="1"/>
<rect x="1026" y="324" width="1" height="1"/>
<rect x="0" y="324" width="1" height="1"/>
<rect x="1026" y="316" width="2" height="1"/>
<rect x="0" y="316" width="1" height="1"/>
<rect x="1026" y="307" width="1" height="1"/>
<rect x="0" y="307" width="1" height="1"/>
<rect x="1026" y="299" width="1" height="1"/>
<rect x="0" y="299" width="1" height="1"/>
<rect x="1026" y="290" width="1" height="1"/>
<rect x="0" y="290" width="1" height="1"/>
<rect x="1026" y="281" width="1" height="1"/>
<rect x="0" y="281" width="1" height="1"/>
<rect x="1026" y="273" width="2" height="1"/>
<rect x="0" y="273" width="1" height="1"/>
<rect x="1026" y="264" width="1" height="1"/>
<rect x="0" y="264" width="1" height="1"/>
<rect x="1026" y="255" width="1" height="1"/>
<rect x="0" y="255" width="1" height="1"/>
<rect x="1026" y="247" width="1" height="1"/>
<rect x="0" y="247" width="1" height="1"/>
<rect x="1026" y="238" width="1" height="1"/>
<rect x="0" y="238" width="1" height="1"/>
<rect x="1026" y="230" width="2" height="1"/>
<rect x="0" y="230" width="1" height="1"/>
<rect x="1026" y="221" width="1" height="1"/>
<rect x="0" y="221" width="1" height="1"/>
<rect x="1026" y="212" width="1" height="1"/>
<rect x="0" y="212" width="1" height="1"/>
<rect x="1026" y="204" width="1" height="1"/>
<rect x="0" y="204" width="1" height="1"/>
<rect x="1026" y="195" width="1" height="1"/>
<rect x="0" y="195" width="1" height="1"/>
<rect x="1026" y="187" width="2" height="1"/>
<rect x="0" y="187" width="1" height="1"/>
<rect x="1026" y="178" width="1" height="1"/>
<rect x="0" y="178" width="1" height="1"/>
<rect x="1026" y="169" width="1" height="1"/>
<rect x="0" y="169" width="1" height="1"/>
<rect x="1026" y="161" width="1" height="1"/>
<rect x="0" y="161" width="1" height="1"/>
<rect x="1026" y="152" width="1" height="1"/>
<rect x="0" y="152" width="1" height="1"/>
<rect x="1026" y="144" width="2" height="1"/>
<rect x="0" y="144" width="1" height="1"/>
<rect x="1026" y="135" width="1" height="1"/>
<rect x="0" y="135" width="1" height="1"/>
<rect x="1026" y="126" width="1" height="1"/>
<rect x="0" y="126" width="1" height="1"/>
<rect x="1026" y="118" width="1" height="1"/>
<rect x="0" y="118" width="1" height="1"/>
<rect x="1026" y="109" width="1" height="1"/>
<rect x="0" y="109" width="1" height="1"/>
<rect x="1026" y="101" width="2" height="1"/>
<rect x="0" y="101" width="1" height="1"/>
<rect x="1026" y="92" width="1" height="1"/>
<rect x="0" y="92" width="1" height="1"/>
<rect x="1026" y="83" width="1" height="1"/>
<rect x="0" y="83" width="1" height="1"/>
<rect x="1026" y="75" width="1" height="1"/>
<rect x="0" y="75" width="1" height="1"/>
<rect x="1026" y="66" width="1" height="1"/>
<rect x="0" y="66" width="1" height="1"/>
<rect x="1026" y="58" width="2" height="1"/>
<rect x="0" y="58" width="1" height="1"/>
<rect x="1026" y="49" width="1" height="1"/>
<rect x="0" y="49" width="1" height="1"/>
<rect x="1026" y="40" width="1" height="1"/>
<rect x="0" y="40" width="1" height="1"/>
<rect x="1026" y="32" width="1" height="1"/>
<rect x="0" y="32" width="1" height="1"/>
<rect x="10" y="545" width="1" height="4"/>
<rect x="56" y="545" width="1" height="4"/>
<rect x="107" y="545" width="1" height="4"/>
<rect x="157" y="545" width="1" height="4"/>
<rect x="207" y="545" width="1" height="4"/>
<rect x="257" y="545" width="1" height="4"/>
<rect x="311" y="545" width="1" height="4"/>
<rect x="358" y="545" width="1" height="4"/>
<rect x="408" y="545" width="1" height="4"/>
<rect x="462" y="545" width="1" height="4"/>
<rect x="513" y="545" width="1" height="4"/>
<rect x="563" y="545" width="1" height="4"/>
<rect x="613" y="545" width="1" height="4"/>
<rect x="663" y="545" width="1" height="4"/>
<rect x="714" y="545" width="1" height="4"/>
<rect x="764" y="545" width="1" height="4"/>
<rect x="814" y="545" width="1" height="4"/>
<rect x="864" y="545" width="1" height="4"/>
<rect x="915" y="545" width="1" height="4"/>
<rect x="965" y="545" width="1" height="4"/>
<rect x="1015" y="545" width="1" height="4"/>
</g>
<text x="1030.7" y="534.9" font-size="12" fill="#000">800</text>
<text x="1030.7" y="491.9" font-size="12" fill="#000">900</text>
<text x="1030.7" y="448.9" font-size="12" fill="#000">1000</text>
<text x="1030.7" y="405.9" font-size="12" fill="#000">1100</text>
<text x="1030.7" y="362.9" font-size="12" fill="#000">1200</text>
<text x="1030.7" y="320.9" font-size="12" fill="#000">1300</text>
<text x="1030.7" y="277.9" font-size="12" fill="#000">1400</text>
<text x="1030.7" y="234.9" font-size="12" fill="#000">1500</text>
<text x="1030.7" y="191.9" font-size="12" fill="#000">1600</text>
<text x="1030.7" y="148.9" font-size="12" fill="#000">1700</text>
<text x="1030.7" y="105.9" font-size="12" fill="#000">1800</text>
<text x="1030.7" y="62.9" font-size="12" fill="#000">1900</text>
<text x="57.8" y="562.8" font-size="12" fill="#000" letter-spacing="0.15" text-anchor="middle">Oct</text>
<text x="108.8" y="562.8" font-size="12" fill="#000" letter-spacing="0.55" text-anchor="middle">2012</text>
<text x="158.8" y="562.8" font-size="12" fill="#000" letter-spacing="0.15" text-anchor="middle">Apr</text>
<text x="208.8" y="562.8" font-size="12" fill="#000" letter-spacing="0.15" text-anchor="middle">Jul</text>
<text x="258.8" y="562.8" font-size="12" fill="#000" letter-spacing="0.15" text-anchor="middle">Oct</text>
<text x="312.8" y="562.8" font-size="12" fill="#000" letter-spacing="0.55" text-anchor="middle">2013</text>
<text x="359.8" y="562.8" font-size="12" fill="#000" letter-spacing="0.15" text-anchor="middle">Apr</text>
<text x="409.8" y="562.8" font-size="12" fill="#000" letter-spacing="0.15" text-anchor="middle">Jul</text>
<text x="463.8" y="562.8" font-size="12" fill="#000" letter-spacing="0.15" text-anchor="middle">Oct</text>
<text x="514.8" y="562.8" font-size="12" fill="#000" letter-spacing="0.55" text-anchor="middle">2014</text>
<text x="564.8" y="562.8" font-size="12" fill="#000" letter-spacing="0.15" text-anchor="middle">Apr</text>
<text x="614.8" y="562.8" font-size="12" fill="#000" letter-spacing="0.15" text-anchor="middle">Jul</text>
<text x="664.8" y="562.8" font-size="12" fill="#000" letter-spacing="0.15" text-anchor="middle">Oct</text>
<text x="715.8" y="562.8" font-size="12" fill="#000" letter-spacing="0.55" text-anchor="middle">2015</text>
<text x="765.8" y="562.8" font-size="12" fill="#000" letter-spacing="0.15" text-anchor="middle">Apr</text>
<text x="815.8" y="562.8" font-size="12" fill="#000" letter-spacing="0.15" text-anchor="middle">Jul</text>
<text x="865.8" y="562.8" font-size="12" fill="#000" letter-spacing="0.15" text-anchor="middle">Oct</text>
<text x="916.8" y="562.8" font-size="12" fill="#000" letter-spacing="0.55" text-anchor="middle">2016</text>
<text x="966.8" y="562.8" font-size="12" fill="#000" letter-spacing="0.15" text-anchor="middle">Apr</text>
<text x="1016.8" y="562.8" font-size="12" fill="#000" letter-spacing="0.15" text-anchor="middle">Jul</text>
<text y="20.6" font-size="16.7" fill="#000" stroke="#000" stroke-width="0.25"><tspan x="10.2" letter-spacing="0.486">Platinum</tspan> <tspan x="92.0" letter-spacing="0.167">NYME</tspan> <tspan x="145.6" letter-spacing="0.3">1st</tspan> <tspan x="176.5" letter-spacing="0.5">Month</tspan> <tspan x="235.3" letter-spacing="0.309">Continuation</tspan> <tspan x="350.1" letter-spacing="0.333">(PL1</tspan> <tspan x="392.8" letter-spacing="0.067">COMB</tspan> <tspan x="449.7" letter-spacing="0.033">COMDTY)</tspan> <tspan x="534.2" letter-spacing="0.1">1077.50</tspan> <tspan x="610.5" letter-spacing="0.5" fill="#0000ff" stroke="#0000ff">22.8</tspan></text>
<text transform="translate(984.9,20) scale(1,1.0)" text-rendering="geometricPrecision" font-size="14.67" letter-spacing="0.544" fill="#000">2016-07-05</text>
<text y="590" font-size="14.67" fill="#0000ff"><tspan x="0.3" textLength="46.4" lengthAdjust="spacingAndGlyphs">www.</tspan><tspan x="45.0" letter-spacing="-0.312">fullertreacymoney</tspan><tspan x="175.0" letter-spacing="0.533">.com</tspan></text>
<text x="625.5" y="589.7" font-size="12" letter-spacing="0.189" fill="#999">This website is © 2008-2016 Fuller Treacy Money plc. All rights reserved</text>
</svg></body></html>
